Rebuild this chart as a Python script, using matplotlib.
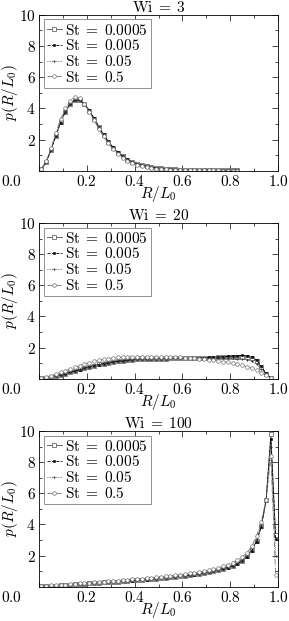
import numpy as np
import matplotlib
matplotlib.use('Agg')
import matplotlib.pyplot as plt
import matplotlib.transforms as mtransforms
from matplotlib.ticker import MultipleLocator, FixedLocator

plt.rcParams['mathtext.fontset'] = 'cm'
plt.rcParams['font.family'] = 'serif'
plt.rcParams['font.serif'] = ['DejaVu Serif']
plt.rcParams['font.size'] = 11

ST_LABELS = ['0.0005', '0.005', '0.05', '0.5']
WI_VALUES = [3, 20, 100]

# Wi = 3
R_WI3 = [0.01, 0.03, 0.05, 0.07, 0.09, 0.11, 0.13, 0.15, 0.17, 0.19,
         0.21, 0.23, 0.25, 0.27, 0.29, 0.31, 0.33, 0.35, 0.37, 0.39,
         0.41, 0.43, 0.45, 0.47, 0.49, 0.51, 0.53, 0.55, 0.57, 0.59,
         0.61, 0.63, 0.65, 0.67, 0.69, 0.71, 0.73, 0.75, 0.77, 0.79,
         0.81, 0.83]
P_WI3_ST0005 = [0.12, 0.55, 1.35, 2.25, 3.10, 3.80, 4.30, 4.55, 4.55, 4.30,
                3.85, 3.35, 2.80, 2.30, 1.85, 1.48, 1.17, 0.92, 0.72, 0.57,
                0.45, 0.35, 0.28, 0.22, 0.18, 0.15, 0.12, 0.10, 0.09, 0.08,
                0.07, 0.06, 0.05, 0.05, 0.04, 0.04, 0.03, 0.03, 0.03, 0.02,
                0.02, 0.02]
P_WI3_ST005 = [0.12, 0.54, 1.33, 2.22, 3.07, 3.78, 4.28, 4.52, 4.53, 4.31,
               3.88, 3.38, 2.84, 2.33, 1.88, 1.50, 1.19, 0.94, 0.74, 0.58,
               0.46, 0.36, 0.29, 0.23, 0.19, 0.15, 0.13, 0.11, 0.09, 0.08,
               0.07, 0.06, 0.06, 0.05, 0.04, 0.04, 0.03, 0.03, 0.03, 0.02,
               0.02, 0.02]
P_WI3_ST05 = [0.12, 0.56, 1.37, 2.28, 3.14, 3.84, 4.33, 4.57, 4.54, 4.28,
              3.82, 3.31, 2.77, 2.27, 1.82, 1.45, 1.14, 0.90, 0.70, 0.55,
              0.43, 0.34, 0.27, 0.21, 0.17, 0.14, 0.12, 0.10, 0.08, 0.07,
              0.06, 0.06, 0.05, 0.04, 0.04, 0.03, 0.03, 0.03, 0.02, 0.02,
              0.02, 0.02]
P_WI3_ST5 = [0.13, 0.60, 1.45, 2.40, 3.30, 4.00, 4.50, 4.75, 4.65, 4.30,
             3.80, 3.25, 2.70, 2.20, 1.75, 1.38, 1.08, 0.84, 0.65, 0.50,
             0.39, 0.30, 0.23, 0.18, 0.14, 0.11, 0.09, 0.07, 0.06, 0.05,
             0.04, 0.04, 0.03, 0.03, 0.02, 0.02, 0.02, 0.02, 0.01, 0.01,
             0.01, 0.01]

# Wi = 20
R_WI20 = [0.01, 0.03, 0.05, 0.07, 0.09, 0.11, 0.13, 0.15, 0.17, 0.19,
          0.21, 0.23, 0.25, 0.27, 0.29, 0.31, 0.33, 0.35, 0.37, 0.39,
          0.41, 0.43, 0.45, 0.47, 0.49, 0.51, 0.53, 0.55, 0.57, 0.59,
          0.61, 0.63, 0.65, 0.67, 0.69, 0.71, 0.73, 0.75, 0.77, 0.79,
          0.81, 0.83, 0.85, 0.87, 0.89, 0.91, 0.93, 0.95, 0.97]
P_WI20_ST0005 = [0.03, 0.08, 0.14, 0.20, 0.27, 0.34, 0.42, 0.50, 0.60, 0.69,
                 0.77, 0.85, 0.92, 0.98, 1.04, 1.09, 1.13, 1.17, 1.20, 1.22,
                 1.24, 1.26, 1.27, 1.28, 1.29, 1.30, 1.30, 1.31, 1.31, 1.31,
                 1.32, 1.32, 1.33, 1.33, 1.34, 1.35, 1.36, 1.37, 1.38, 1.40,
                 1.41, 1.42, 1.43, 1.41, 1.33, 1.12, 0.74, 0.32, 0.05]
P_WI20_ST005 = [0.03, 0.08, 0.13, 0.19, 0.26, 0.33, 0.41, 0.49, 0.58, 0.67,
                0.75, 0.83, 0.90, 0.97, 1.03, 1.08, 1.12, 1.16, 1.19, 1.22,
                1.24, 1.26, 1.27, 1.28, 1.29, 1.30, 1.30, 1.31, 1.31, 1.32,
                1.32, 1.33, 1.34, 1.35, 1.36, 1.37, 1.38, 1.40, 1.42, 1.44,
                1.46, 1.48, 1.50, 1.49, 1.42, 1.20, 0.80, 0.35, 0.05]
P_WI20_ST05 = [0.03, 0.08, 0.14, 0.21, 0.28, 0.36, 0.44, 0.53, 0.62, 0.71,
               0.79, 0.87, 0.94, 1.00, 1.06, 1.10, 1.14, 1.18, 1.21, 1.23,
               1.25, 1.27, 1.28, 1.29, 1.30, 1.30, 1.31, 1.31, 1.31, 1.31,
               1.31, 1.31, 1.31, 1.31, 1.31, 1.31, 1.31, 1.31, 1.31, 1.31,
               1.31, 1.30, 1.28, 1.23, 1.12, 0.92, 0.62, 0.28, 0.05]
P_WI20_ST5 = [0.04, 0.11, 0.20, 0.30, 0.41, 0.52, 0.63, 0.74, 0.85, 0.95,
              1.04, 1.12, 1.19, 1.25, 1.30, 1.34, 1.37, 1.39, 1.41, 1.42,
              1.43, 1.43, 1.43, 1.43, 1.42, 1.42, 1.41, 1.40, 1.39, 1.38,
              1.36, 1.34, 1.32, 1.29, 1.26, 1.23, 1.19, 1.15, 1.10, 1.05,
              0.99, 0.93, 0.86, 0.78, 0.68, 0.55, 0.40, 0.22, 0.05]

# Wi = 100
R_WI100 = [0.01, 0.03, 0.05, 0.07, 0.09, 0.11, 0.13, 0.15, 0.17, 0.19,
           0.21, 0.23, 0.25, 0.27, 0.29, 0.31, 0.33, 0.35, 0.37, 0.39,
           0.41, 0.43, 0.45, 0.47, 0.49, 0.51, 0.53, 0.55, 0.57, 0.59,
           0.61, 0.63, 0.65, 0.67, 0.69, 0.71, 0.73, 0.75, 0.77, 0.79,
           0.81, 0.83, 0.85, 0.87, 0.89, 0.91, 0.93, 0.95, 0.97, 0.99]
P_WI100_ST0005 = [0.04, 0.05, 0.07, 0.08, 0.10, 0.12, 0.14, 0.16, 0.18, 0.20,
                  0.22, 0.24, 0.26, 0.28, 0.30, 0.32, 0.34, 0.36, 0.38, 0.41,
                  0.43, 0.45, 0.48, 0.50, 0.53, 0.56, 0.59, 0.62, 0.65, 0.69,
                  0.72, 0.76, 0.80, 0.85, 0.90, 0.95, 1.01, 1.08, 1.16, 1.25,
                  1.36, 1.50, 1.68, 1.95, 2.35, 2.95, 3.90, 5.60, 9.80, 3.30]
P_WI100_ST005 = [0.04, 0.05, 0.07, 0.08, 0.10, 0.12, 0.14, 0.16, 0.18, 0.20,
                 0.22, 0.24, 0.26, 0.28, 0.30, 0.32, 0.34, 0.36, 0.38, 0.40,
                 0.42, 0.45, 0.47, 0.50, 0.52, 0.55, 0.58, 0.61, 0.64, 0.68,
                 0.71, 0.75, 0.79, 0.84, 0.89, 0.94, 1.00, 1.07, 1.15, 1.24,
                 1.35, 1.48, 1.66, 1.92, 2.30, 2.90, 3.85, 5.50, 9.50, 3.10]
P_WI100_ST05 = [0.04, 0.05, 0.07, 0.09, 0.11, 0.13, 0.15, 0.17, 0.19, 0.21,
                0.23, 0.25, 0.27, 0.29, 0.31, 0.33, 0.35, 0.37, 0.40, 0.42,
                0.44, 0.47, 0.49, 0.52, 0.55, 0.58, 0.61, 0.64, 0.67, 0.71,
                0.74, 0.78, 0.83, 0.88, 0.93, 0.99, 1.05, 1.12, 1.20, 1.30,
                1.41, 1.56, 1.75, 2.02, 2.42, 3.02, 3.95, 5.50, 9.00, 2.00]
P_WI100_ST5 = [0.05, 0.07, 0.09, 0.11, 0.13, 0.15, 0.17, 0.20, 0.22, 0.24,
               0.27, 0.29, 0.31, 0.33, 0.36, 0.38, 0.40, 0.43, 0.45, 0.48,
               0.50, 0.53, 0.55, 0.58, 0.61, 0.64, 0.67, 0.70, 0.74, 0.78,
               0.82, 0.86, 0.91, 0.96, 1.01, 1.07, 1.14, 1.22, 1.31, 1.42,
               1.55, 1.72, 1.92, 2.20, 2.60, 3.25, 4.15, 5.60, 8.40, 0.75]

PANELS = [
    (R_WI3, [P_WI3_ST0005, P_WI3_ST005, P_WI3_ST05, P_WI3_ST5]),
    (R_WI20, [P_WI20_ST0005, P_WI20_ST005, P_WI20_ST05, P_WI20_ST5]),
    (R_WI100, [P_WI100_ST0005, P_WI100_ST005, P_WI100_ST05, P_WI100_ST5]),
]

STYLES = [
    dict(color='0.3', ls='-', marker='s', mfc='white', mec='0.3', ms=2.3, mew=0.5),
    dict(color='black', ls='--', marker='s', mfc='black', mec='black', ms=1.8, mew=0.4),
    dict(color='0.2', ls=':', marker='.', mfc='0.2', mec='0.2', ms=2.0, mew=0.4),
    dict(color='0.45', ls='-.', marker='o', mfc='white', mec='0.45', ms=2.6, mew=0.5),
]

FS = 11

fig = plt.figure(figsize=(2.89, 6.21), dpi=100)
tops = [0.976, 0.641, 0.306]
h = 0.251
left, width = 0.135, 0.827
shift = mtransforms.ScaledTranslation(-0.28, 0, fig.dpi_scale_trans)

for (r, series), top, wi in zip(PANELS, tops, WI_VALUES):
    ax = fig.add_axes([left, top - h, width, h])
    for vals, st, style in zip(series, ST_LABELS, STYLES):
        ax.plot(r, vals, lw=0.6, label=r'$\mathrm{St}\;=\;' + st + '$', **style)
    ax.set_xlim(0, 1)
    ax.set_ylim(0, 10)
    ax.xaxis.set_major_locator(FixedLocator([0, 0.2, 0.4, 0.6, 0.8, 1.0]))
    ax.xaxis.set_minor_locator(MultipleLocator(0.1))
    ax.set_xticklabels([r'$0.0$', r'$0.2$', r'$0.4$', r'$0.6$', r'$0.8$', r'$1.0$'])
    ax.yaxis.set_major_locator(FixedLocator([2, 4, 6, 8, 10]))
    ax.yaxis.set_minor_locator(FixedLocator([1, 3, 5, 7, 9]))
    ax.set_yticklabels([r'$2$', r'$4$', r'$6$', r'$8$', r'$10$'])
    ax.tick_params(which='both', direction='in', top=True, right=True, labelsize=FS, pad=2.5)
    ax.tick_params(which='major', length=4, width=0.5)
    ax.tick_params(which='minor', length=2, width=0.5)
    # first x label sits further left in the original
    lbl0 = ax.get_xticklabels()[0]
    lbl0.set_transform(lbl0.get_transform() + shift)
    for s in ax.spines.values():
        s.set_linewidth(0.6)
    ax.set_title(r'$\mathrm{Wi}\;=\;' + str(wi) + '$', fontsize=FS, pad=2)
    ax.set_xlabel(r'$R/L_0$', fontsize=FS, labelpad=-4)
    ax.set_ylabel(r'$p(R/L_0)$', fontsize=FS, labelpad=-1)
    leg = ax.legend(loc='upper left', fontsize=FS, handlelength=1.0, handletextpad=0.2,
                    borderpad=0.2, labelspacing=0.05, borderaxespad=0.3,
                    fancybox=False, framealpha=1, markerscale=1.0)
    leg.get_frame().set_edgecolor('0.5')
    leg.get_frame().set_linewidth(0.6)

fig.savefig('out.png', dpi=100)
